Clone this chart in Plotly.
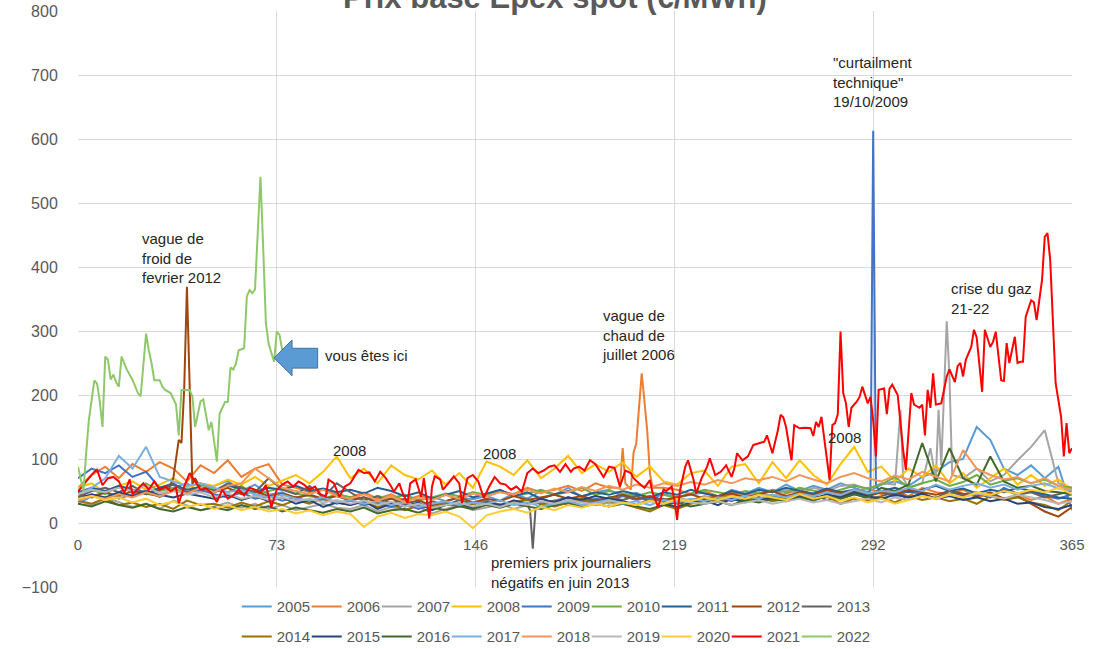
import plotly.graph_objects as go

# ---------------- data (EUR/MWh, base day-ahead, by day of year) ----------------
DAYS = list(range(0, 366, 5))
TICK_DAYS = [0, 73, 146, 219, 292, 365]

y2005 = [30, 42, 48, 38, 45, 52, 40, 55, 62, 48,
         58, 66, 50, 60, 44, 48, 38, 45, 36, 42,
         35, 40, 33, 38, 44, 36, 41, 34, 40, 37,
         42, 35, 46, 38, 50, 44, 55, 40, 48, 52,
         42, 47, 38, 45, 40, 44, 48, 40, 52, 46,
         55, 48, 60, 50, 58, 52, 62, 55, 48, 60,
         65, 58, 72, 80, 95, 100, 150, 130, 85, 75,
         90, 70, 88, 20]
y2006 = [55, 75, 88, 70, 92, 80, 95, 85, 65, 90,
         78, 98, 72, 85, 92, 60, 55, 48, 52, 45,
         40, 48, 38, 45, 35, 42, 38, 44, 36, 48,
         42, 50, 45, 55, 48, 52, 58, 50, 62, 55,
         117, 124, 78, 55, 52, 45, 50, 42, 48, 44,
         48, 40, 46, 52, 44, 50, 42, 48, 55, 45,
         50, 42, 55, 48, 45, 52, 40, 46, 38, 44,
         36, 42, 30, 38]
ev2006_days = [199, 201, 203, 204, 206, 207, 208, 209, 211]
ev2006_vals = [55, 62, 52, 110, 180, 234, 190, 145, 55]
y2007 = [35, 28, 40, 32, 25, 30, 22, 35, 28, 20,
         26, 32, 24, 30, 22, 28, 20, 25, 30, 24,
         22, 28, 18, 25, 20, 26, 15, 22, 28, 20,
         24, 30, 22, 28, 34, 26, 32, 28, 36, 30,
         34, 28, 38, 32, 40, 35, 42, 38, 45, 40,
         48, 42, 52, 45, 55, 50, 58, 60, 52, 62,
         60, 55, 62, 68, 229, 70, 85, 65, 75, 98,
         119, 145, 62, 55]
ev2007_days = [302, 303, 313, 316, 317, 319, 321]
ev2007_vals = [177, 70, 117, 177, 90, 315, 75]
y2008 = [55, 62, 48, 58, 65, 52, 60, 70, 55, 62,
         58, 68, 60, 72, 58, 66, 75, 62, 80, 104,
         70, 85, 62, 90, 75, 68, 82, 60, 78, 55,
         96, 88, 75, 98, 70, 85, 105, 78, 92, 80,
         95, 72, 88, 65, 60, 78, 82, 58, 88, 92,
         62, 95, 70, 98, 75, 60, 92, 119, 80, 88,
         65, 85, 72, 90, 62, 78, 55, 70, 85, 60,
         75, 58, 68, 52]
y2009 = [70, 85, 78, 90, 72, 80, 55, 62, 48, 52,
         45, 40, 48, 38, 42, 35, 40, 32, 38, 30,
         35, 28, 32, 25, 30, 22, 28, 32, 26, 30,
         35, 28, 32, 38, 30, 35, 40, 33, 38, 35,
         42, 36, 40, 34, 38, 32, 36, 40, 34, 42,
         38, 44, 36, 40, 35, 42, 38, 45, 40, 48,
         42, 50, 45, 38, 52, 44, 48, 40, 55, 46,
         50, 42, 38, 45]
ev2009_days = [291, 292, 293]
ev2009_vals = [55, 613, 58]
y2010 = [40, 52, 45, 58, 48, 62, 50, 55, 45, 60,
         52, 48, 58, 44, 50, 55, 46, 42, 38, 45,
         40, 36, 42, 38, 44, 35, 40, 46, 42, 48,
         44, 50, 42, 46, 52, 45, 48, 55, 44, 50,
         46, 42, 48, 44, 40, 46, 52, 48, 44, 50,
         46, 52, 48, 55, 50, 46, 52, 58, 54, 60,
         72, 55, 62, 68, 58, 64, 75, 60, 66, 70,
         62, 68, 58, 55]
y2011 = [48, 55, 50, 58, 52, 45, 55, 60, 52, 56,
         50, 58, 54, 48, 55, 52, 58, 50, 54, 48,
         52, 46, 55, 50, 42, 48, 38, 44, 50, 40,
         46, 52, 42, 48, 38, 45, 50, 42, 48, 44,
         50, 45, 40, 48, 44, 52, 46, 42, 50, 45,
         52, 48, 55, 50, 46, 54, 48, 52, 45, 50,
         55, 48, 52, 58, 50, 54, 46, 52, 48, 55,
         50, 45, 40, 38]
y2012 = [45, 40, 48, 42, 50, 46, 42, 70, 369, 55,
         48, 55, 45, 50, 42, 46, 40, 44, 38, 42,
         36, 40, 32, 38, 30, 35, 28, 34, 40, 32,
         38, 34, 42, 36, 40, 44, 38, 42, 35, 40,
         44, 38, 42, 36, 40, 45, 38, 42, 46, 40,
         45, 50, 42, 48, 44, 52, 46, 50, 42, 48,
         45, 52, 48, 44, 50, 46, 42, 48, 38, 42,
         30, 18, 10, 25]
ev2012_days = [33, 36, 37, 38, 39, 41, 42, 43]
ev2012_vals = [50, 100, 130, 125, 210, 200, 60, 70]
y2013 = [40, 50, 55, 48, 58, 45, 52, 60, 48, 55,
         50, 62, 55, 48, 70, 52, 45, 58, 40, 62,
         48, 35, 42, 30, 38, 26, 34, 28, 36, 30,
         32, 25, 35, 28, 30, 35, 28, 38, 32, 40,
         36, 42, 34, 38, 30, 36, 40, 34, 38, 32,
         40, 35, 42, 38, 44, 36, 40, 46, 38, 42,
         48, 40, 45, 38, 50, 42, 46, 40, 52, 44,
         48, 40, 45, 50]
ev2013_days = [166, 167, 168]
ev2013_vals = [20, -40, 22]
y2014 = [35, 30, 38, 28, 32, 25, 30, 22, 35, 28,
         30, 24, 32, 26, 34, 28, 36, 30, 38, 32,
         28, 34, 25, 30, 20, 28, 24, 32, 26, 30,
         34, 28, 32, 36, 30, 26, 32, 38, 28, 34,
         30, 24, 18, 28, 22, 30, 34, 38, 42, 36,
         40, 34, 38, 44, 36, 42, 30, 38, 35, 40,
         32, 42, 36, 40, 34, 38, 30, 42, 36, 40,
         32, 28, 20, 35]
y2015 = [38, 45, 40, 48, 42, 50, 44, 40, 46, 42,
         38, 44, 36, 42, 34, 40, 30, 36, 25, 32,
         28, 34, 22, 30, 26, 32, 20, 28, 30, 24,
         32, 28, 35, 30, 38, 32, 40, 36, 42, 38,
         34, 28, 36, 30, 25, 32, 35, 28, 38, 33,
         36, 40, 34, 42, 38, 45, 40, 48, 42, 38,
         44, 40, 46, 38, 42, 36, 40, 34, 38, 30,
         32, 25, 22, 28]
y2016 = [30, 26, 34, 28, 24, 30, 22, 18, 25, 20,
         24, 20, 28, 22, 26, 18, 24, 20, 16, 22,
         18, 24, 15, 20, 22, 16, 24, 20, 26, 22,
         28, 24, 30, 26, 22, 28, 32, 25, 30, 26,
         30, 26, 22, 28, 32, 26, 30, 34, 28, 36,
         32, 38, 34, 40, 36, 42, 38, 45, 40, 55,
         50, 60, 125, 65, 117, 70, 60, 104, 65, 55,
         58, 50, 48, 45]
y2017 = [45, 55, 70, 105, 85, 119, 72, 65, 58, 62,
         55, 48, 52, 45, 40, 44, 38, 35, 40, 32,
         36, 30, 34, 28, 32, 25, 30, 34, 28, 32,
         30, 35, 28, 32, 26, 30, 34, 28, 32, 36,
         30, 34, 28, 36, 32, 38, 34, 40, 36, 42,
         38, 44, 40, 46, 42, 48, 44, 52, 46, 50,
         48, 55, 50, 60, 52, 58, 62, 55, 60, 52,
         58, 62, 54, 50]
y2018 = [35, 42, 38, 45, 40, 48, 42, 50, 46, 55,
         48, 58, 62, 85, 70, 55, 50, 45, 52, 42,
         38, 45, 35, 42, 32, 40, 36, 44, 38, 46,
         42, 48, 44, 52, 46, 54, 48, 56, 50, 58,
         52, 60, 55, 62, 58, 64, 60, 67, 62, 70,
         67, 72, 65, 75, 68, 62, 72, 78, 70, 65,
         74, 68, 80, 72, 65, 114, 85, 75, 68, 72,
         62, 70, 58, 52]
y2019 = [45, 52, 48, 55, 50, 58, 46, 52, 44, 48,
         40, 46, 38, 42, 36, 40, 34, 38, 32, 36,
         30, 35, 28, 33, 26, 30, 24, 28, 32, 26,
         30, 25, 32, 28, 34, 30, 36, 32, 28, 35,
         32, 28, 34, 30, 36, 32, 30, 34, 28, 32,
         36, 30, 34, 38, 32, 36, 30, 34, 38, 32,
         40, 36, 42, 38, 44, 40, 46, 42, 38, 44,
         40, 36, 30, 34]
y2020 = [38, 42, 36, 40, 32, 38, 28, 34, 25, 30,
         22, 28, 20, 25, 18, 22, 15, 20, 12, 18,
         14, -6, 10, 16, 8, 14, 12, 18, 10, -8,
         12, 18, 22, 16, 25, 20, 28, 24, 30, 26,
         32, 28, 35, 30, 38, 34, 40, 36, 42, 38,
         44, 40, 36, 45, 38, 42, 35, 40, 32, 38,
         30, 36, 42, 38, 45, 40, 48, 44, 50, 46,
         52, 48, 55, 45]

days_2021 = [0, 2, 4, 6, 7, 9, 11, 13, 15, 17,
             19, 20, 22, 24, 26, 28, 30, 32, 34, 36,
             37, 39, 41, 43, 45, 47, 49, 51, 53, 55,
             57, 59, 61, 63, 65, 67, 69, 71, 73, 75,
             77, 79, 81, 83, 85, 87, 89, 91, 92, 94,
             96, 98, 100, 103, 105, 107, 109, 111, 113, 115,
             116, 118, 119, 121, 122, 124, 126, 127, 129, 130,
             131, 133, 134, 136, 138, 140, 141, 143, 145, 147,
             149, 151, 153, 155, 157, 159, 161, 163, 165, 167,
             169, 171, 173, 175, 177, 179, 181, 182, 184, 186,
             188, 190, 191, 193, 195, 197, 199, 201, 203, 204,
             206, 208, 210, 211, 213, 215, 216, 218, 219, 220,
             221, 223, 224, 226, 227, 229, 231, 232, 234, 236,
             238, 240, 241, 242, 244, 246, 248, 250, 252, 253,
             255, 257, 258, 259, 260, 262, 263, 265, 267, 269,
             270, 271, 272, 273, 274, 276, 277, 278, 279, 280,
             281, 282, 283, 284, 286, 287, 288, 290, 291, 292,
             293, 294, 296, 297, 298, 299, 301, 303, 304, 306,
             307, 309, 310, 311, 312, 313, 314, 315, 317, 319,
             320, 322, 323, 324, 325, 326, 328, 329, 330, 331,
             332, 333, 335, 336, 337, 339, 340, 341, 342, 344,
             345, 346, 347, 348, 350, 351, 352, 354, 355, 356,
             357, 359, 361, 362, 363, 364, 365]
y2021 = [49, 60, 70, 80, 83, 59, 70, 72, 65, 47,
         68, 45, 54, 62, 52, 65, 52, 57, 50, 55,
         31, 57, 78, 65, 52, 54, 47, 33, 52, 38,
         43, 52, 43, 55, 52, 47, 59, 25, 52, 60,
         65, 57, 65, 60, 52, 57, 45, 41, 68, 62,
         41, 57, 62, 83, 78, 79, 65, 80, 70, 57,
         49, 62, 49, 31, 62, 68, 41, 70, 7, 57,
         73, 68, 52, 62, 73, 62, 31, 70, 75, 65,
         39, 57, 72, 62, 60, 52, 57, 49, 78, 85,
         78, 82, 88, 90, 80, 92, 80, 85, 88, 82,
         98, 92, 85, 72, 88, 86, 57, 82, 78, 70,
         62, 55, 67, 47, 25, 52, 50, 57, 36, 5,
         50, 88, 98, 68, 46, 70, 88, 101, 75, 80,
         90, 72, 85, 109, 98, 104, 122, 125, 127, 137,
         109, 145, 169, 165, 150, 98, 153, 148, 149, 148,
         136, 158, 150, 166, 130, 67, 153, 156, 170, 299,
         203, 187, 150, 180, 190, 197, 213, 187, 197, 160,
         104, 208, 210, 170, 210, 216, 200, 114, 83, 203,
         185, 180, 185, 137, 208, 180, 234, 185, 187, 229,
         240, 220, 245, 250, 229, 255, 275, 302, 290, 250,
         205, 302, 275, 283, 299, 223, 222, 281, 250, 291,
         250, 252, 252, 322, 348, 345, 317, 380, 447, 453,
         411, 218, 166, 104, 156, 109, 117]

days_2022 = [0, 2, 3, 4, 6, 7, 8, 9, 10, 11,
             12, 13, 14, 15, 16, 18, 20, 22, 23, 25,
             26, 27, 28, 30, 31, 32, 34, 35, 36, 37,
             38, 39, 41, 42, 43, 45, 46, 48, 49, 51,
             52, 54, 55, 56, 57, 58, 59, 61, 62, 63,
             64, 65, 66, 67, 68, 69, 70, 71, 72, 73,
             74, 75, 76]
y2022 = [88, 50, 110, 161, 223, 218, 190, 150, 260, 255,
         224, 232, 220, 213, 260, 239, 224, 203, 198, 296,
         270, 250, 223, 223, 213, 208, 203, 195, 185, 137,
         208, 208, 208, 198, 150, 190, 193, 145, 158, 96,
         171, 189, 189, 243, 240, 249, 270, 273, 354, 364,
         359, 365, 463, 541, 430, 312, 280, 265, 252, 299,
         294, 270, 262]

YEARS = [str(y) for y in range(2005, 2023)]
COLORS = ["#5B9BD5", "#ED7D31", "#A5A5A5", "#FFC000", "#4472C4", "#70AD47",
          "#255E91", "#9E480E", "#636363", "#997300", "#264478", "#43682B",
          "#7CAFDD", "#F1975A", "#B7B7B7", "#FFCD33", "#FF0000", "#8FC86A"]

for name, arr in [("2005", y2005), ("2006", y2006), ("2007", y2007), ("2008", y2008),
                  ("2009", y2009), ("2010", y2010), ("2011", y2011), ("2012", y2012),
                  ("2013", y2013), ("2014", y2014), ("2015", y2015), ("2016", y2016),
                  ("2017", y2017), ("2018", y2018), ("2019", y2019), ("2020", y2020)]:
    assert len(arr) == len(DAYS), (name, len(arr))
assert len(days_2021) == len(y2021), (len(days_2021), len(y2021))
assert len(days_2022) == len(y2022), (len(days_2022), len(y2022))


def with_events(days, vals, ev_days=(), ev_vals=()):
    pts = dict(zip(days, vals))
    pts.update(zip(ev_days, ev_vals))
    ks = sorted(pts)
    return ks, [pts[k] for k in ks]


series = [
    with_events(DAYS, y2005),
    with_events(DAYS, y2006, ev2006_days, ev2006_vals),
    with_events(DAYS, y2007, ev2007_days, ev2007_vals),
    with_events(DAYS, y2008),
    with_events(DAYS, y2009, ev2009_days, ev2009_vals),
    with_events(DAYS, y2010),
    with_events(DAYS, y2011),
    with_events(DAYS, y2012, ev2012_days, ev2012_vals),
    with_events(DAYS, y2013, ev2013_days, ev2013_vals),
    with_events(DAYS, y2014),
    with_events(DAYS, y2015),
    with_events(DAYS, y2016),
    with_events(DAYS, y2017),
    with_events(DAYS, y2018),
    with_events(DAYS, y2019),
    with_events(DAYS, y2020),
    (days_2021, y2021),
    (days_2022, y2022),
]

FONT = "Liberation Sans"
GRID = "#D9D9D9"
TXT = "#595959"

# plot area: paper spans px 11..649 (t=11, b=0); y axis domain starts at px 587
Y_DOM0 = (649 - 587) / 638.0
ZERO_POS = Y_DOM0 + (1 - Y_DOM0) * 100 / 900

fig = go.Figure()
for i, (name, color, (xs, ys)) in enumerate(zip(YEARS, COLORS, series)):
    fig.add_trace(go.Scatter(
        x=xs, y=ys, mode="lines", name=name,
        line=dict(color=color, width=2),
        legend="legend" if i < 9 else "legend2",
    ))
    if i in (8, 17):
        # invisible spacer entry so the last legend label is not clipped
        fig.add_trace(go.Scatter(
            x=[None], y=[None], mode="lines", name=" ", hoverinfo="skip",
            line=dict(color="rgba(0,0,0,0)", width=0),
            legend="legend" if i < 9 else "legend2",
        ))

legend_common = dict(orientation="h", xanchor="left", yanchor="middle",
                     font=dict(family=FONT, size=15, color=TXT),
                     entrywidth=25, itemwidth=30, bgcolor="rgba(0,0,0,0)")

ann_font = dict(family=FONT, size=15, color="#262626")
annotations = [
    dict(text="<b>Prix base Epex spot (€/MWh)</b>", xref="paper", yref="paper",
         x=0.48, y=0.9906, xanchor="center", yanchor="bottom", showarrow=False,
         font=dict(family=FONT, size=31, color=TXT)),
    dict(text="vague de<br>froid de<br>fevrier 2012", x=22.8, y=461, xanchor="left", yanchor="top"),
    dict(text="vous êtes ici", x=90, y=262, xanchor="left", yanchor="middle"),
    dict(text="2008", x=92.9, y=114, xanchor="left", yanchor="middle"),
    dict(text="2008", x=148, y=109, xanchor="left", yanchor="middle"),
    dict(text="2008", x=274.7, y=134, xanchor="left", yanchor="middle"),
    dict(text="vague de<br>chaud de<br>juillet 2006", x=191.7, y=341, xanchor="left", yanchor="top"),
    dict(text="premiers prix journaliers<br>négatifs en juin 2013", x=151, y=-45,
         xanchor="left", yanchor="top"),
    dict(text="\"curtailment<br>technique\"<br>19/10/2009", x=276.5, y=736,
         xanchor="left", yanchor="top"),
    dict(text="crise du gaz<br>21-22", x=320, y=383, xanchor="left", yanchor="top"),
]
for a in annotations[1:]:
    a.update(showarrow=False, font=ann_font, align="left", xref="x", yref="y")

fig.update_layout(
    width=1094, height=649, autosize=False,
    margin=dict(l=78, r=22, t=11, b=0, autoexpand=False),
    paper_bgcolor="white", plot_bgcolor="white",
    font=dict(family=FONT, color=TXT),
    showlegend=True,
    legend=dict(legend_common, x=0.1597, y=(649 - 606.7) / 638.0),
    legend2=dict(legend_common, x=0.1597, y=(649 - 636.7) / 638.0),
    annotations=annotations,
    shapes=[dict(type="path", xref="x", yref="y", layer="above",
                 path="M 72,258 L 78.6,286 L 78.6,273 L 88,273 L 88,242 L 78.6,242 L 78.6,230 Z",
                 fillcolor="#5B9BD5", line=dict(color="#41719C", width=1))],
    xaxis=dict(range=[0, 365], tickvals=TICK_DAYS, showgrid=True, gridcolor=GRID,
               zeroline=False, anchor="free", position=ZERO_POS, automargin=False,
               ticks="outside", ticklen=8, tickcolor="rgba(0,0,0,0)",
               tickfont=dict(family=FONT, size=15, color=TXT), showline=False),
    yaxis=dict(domain=[Y_DOM0, 1], range=[-100, 800], dtick=100, showgrid=True, gridcolor=GRID,
               zeroline=True, zerolinecolor=GRID, zerolinewidth=1, automargin=False,
               ticks="outside", ticklen=16, tickcolor="rgba(0,0,0,0)",
               tickfont=dict(family=FONT, size=16, color=TXT), showline=False),
)

fig.write_html("out.html", config={"displayModeBar": False},
               post_script="document.body.style.margin='0';document.body.style.overflow='hidden';")
